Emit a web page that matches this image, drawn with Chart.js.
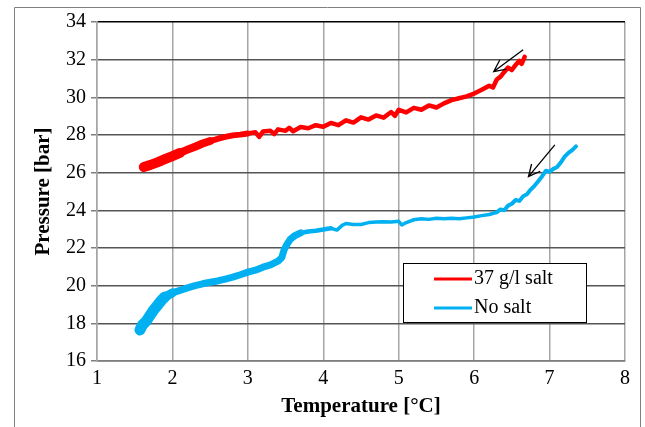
<!DOCTYPE html>
<html lang="en">
<head>
<meta charset="UTF-8">
<title>Pressure vs temperature</title>
<script src="https://cdn.jsdelivr.net/npm/chart.js"></script>
<style>
  body { margin: 0; background: #fff; }
  #wrap { width: 645px; height: 427px; }
</style>
</head>
<body>
<div id="wrap"><canvas id="myChart" width="645" height="427"></canvas></div>
<script>
  const seriesLabels = ['37 g/l salt', 'No salt'];
  const seriesColors = ['#ff0000', '#00b0f0'];

  // temperature [°C] / pressure [bar]
  const saltTemp = [1.62, 1.70, 1.80, 1.90, 2.00, 2.10, 2.20, 2.30, 2.40, 2.50, 2.60, 2.70, 2.80, 2.90, 3.00,
    3.10, 3.15, 3.20, 3.30, 3.35, 3.40, 3.50, 3.55, 3.60, 3.70, 3.80, 3.90, 4.00, 4.10, 4.20, 4.30, 4.40,
    4.50, 4.60, 4.70, 4.80, 4.90, 4.95, 5.00, 5.10, 5.20, 5.30, 5.40, 5.50, 5.60, 5.70, 5.80, 5.90, 6.00,
    6.10, 6.20, 6.25, 6.30, 6.35, 6.40, 6.45, 6.50, 6.55, 6.60, 6.63, 6.67];
  const saltPress = [26.30, 26.40, 26.55, 26.72, 26.88, 27.05, 27.22, 27.38, 27.55, 27.68, 27.80, 27.90, 27.98, 28.02, 28.08,
    28.15, 27.90, 28.18, 28.22, 28.05, 28.30, 28.22, 28.38, 28.20, 28.42, 28.36, 28.52, 28.44, 28.64, 28.52, 28.78, 28.66,
    28.94, 28.82, 29.04, 28.92, 29.22, 29.02, 29.34, 29.20, 29.44, 29.34, 29.57, 29.46, 29.68, 29.85, 29.95, 30.05, 30.20,
    30.40, 30.62, 30.52, 30.95, 31.10, 31.35, 31.58, 31.45, 31.72, 31.94, 31.78, 32.15];

  const noSaltTemp = [1.57, 1.60, 1.65, 1.70, 1.75, 1.80, 1.85, 1.90, 2.00, 2.10, 2.20, 2.30, 2.40, 2.50, 2.60,
    2.70, 2.80, 2.90, 3.00, 3.10, 3.20, 3.30, 3.40, 3.45, 3.48, 3.52, 3.56, 3.62, 3.70, 3.80, 3.90, 4.00,
    4.10, 4.18, 4.25, 4.30, 4.40, 4.50, 4.60, 4.70, 4.80, 4.90, 5.00, 5.04, 5.10, 5.20, 5.30, 5.40, 5.50,
    5.60, 5.70, 5.80, 5.90, 6.00, 6.10, 6.20, 6.30, 6.35, 6.40, 6.45, 6.50, 6.55, 6.60, 6.65, 6.70, 6.75,
    6.80, 6.85, 6.90, 6.95, 7.00, 7.05, 7.10, 7.15, 7.20, 7.25, 7.30, 7.35];
  const noSaltPress = [17.65, 17.90, 18.10, 18.40, 18.70, 18.95, 19.20, 19.40, 19.62, 19.75, 19.88, 20.00, 20.10, 20.18, 20.25,
    20.35, 20.45, 20.58, 20.72, 20.82, 20.98, 21.10, 21.30, 21.50, 21.90, 22.20, 22.45, 22.65, 22.80, 22.88, 22.92, 22.98,
    23.05, 22.95, 23.20, 23.30, 23.25, 23.25, 23.35, 23.38, 23.40, 23.38, 23.42, 23.22, 23.35, 23.50, 23.55, 23.52, 23.58,
    23.55, 23.58, 23.55, 23.60, 23.65, 23.72, 23.78, 23.90, 24.05, 24.00, 24.25, 24.35, 24.55, 24.50, 24.75, 24.85, 25.10,
    25.30, 25.55, 25.80, 26.10, 26.05, 26.20, 26.30, 26.55, 26.85, 27.05, 27.20, 27.40];

  // annotation arrows: tail -> head, in data units
  const arrowTails = [[6.65, 32.53], [7.07, 27.48]];
  const arrowHeads = [[6.26, 31.37], [6.72, 25.79]];

  const toPoints = (xs, ys) => xs.map((x, i) => ({ x, y: ys[i] }));
  const serif = "Liberation Serif, DejaVu Serif, serif";

  const decor = {
    id: 'decor',
    afterDatasetsDraw(chart) {
      const ctx = chart.ctx;
      const sx = chart.scales.x, sy = chart.scales.y;
      ctx.save();
      ctx.strokeStyle = '#000';
      ctx.lineWidth = 1.3;
      for (let i = 0; i < arrowTails.length; i++) {
        const x0 = sx.getPixelForValue(arrowTails[i][0]), y0 = sy.getPixelForValue(arrowTails[i][1]);
        const x1 = sx.getPixelForValue(arrowHeads[i][0]), y1 = sy.getPixelForValue(arrowHeads[i][1]);
        const a = Math.atan2(y1 - y0, x1 - x0);
        ctx.beginPath();
        ctx.moveTo(x0, y0);
        ctx.lineTo(x1, y1);
        ctx.moveTo(x1 - 13 * Math.cos(a - 0.45), y1 - 13 * Math.sin(a - 0.45));
        ctx.lineTo(x1, y1);
        ctx.lineTo(x1 - 13 * Math.cos(a + 0.45), y1 - 13 * Math.sin(a + 0.45));
        ctx.stroke();
      }
      ctx.restore();
    },
    afterDraw(chart) {
      const ctx = chart.ctx;
      const area = chart.chartArea;
      ctx.save();
      // outer frame
      ctx.strokeStyle = '#808080';
      ctx.lineWidth = 1;
      ctx.beginPath();
      ctx.moveTo(14.5, 430);
      ctx.lineTo(14.5, 7.5);
      ctx.lineTo(640.5, 7.5);
      ctx.lineTo(640.5, 430);
      ctx.stroke();

      // legend box
      const bx = area.left + 306, by = area.top + 241, bw = 183, bh = 59;
      ctx.fillStyle = '#fff';
      ctx.fillRect(bx, by, bw, bh);
      ctx.strokeStyle = '#000';
      ctx.lineWidth = 1;
      ctx.strokeRect(bx + 0.5, by + 0.5, bw, bh);
      ctx.font = '20px ' + serif;
      ctx.textBaseline = 'middle';
      chart.data.datasets.forEach((ds, i) => {
        const y = by + 16 + i * 29;
        ctx.strokeStyle = ds.borderColor;
        ctx.lineWidth = 3;
        ctx.beginPath();
        ctx.moveTo(bx + 31, y);
        ctx.lineTo(bx + 69, y);
        ctx.stroke();
        ctx.fillStyle = '#000';
        ctx.fillText(ds.label, bx + 71, y);
      });
      ctx.restore();
    }
  };

  const widthBy = (limits) => (c) => {
    const x = c.p0.parsed.x;
    for (const [lim, w] of limits) if (x < lim) return w;
    return 3;
  };

  new Chart(document.getElementById('myChart'), {
    type: 'scatter',
    data: {
      datasets: [
        {
          label: seriesLabels[0],
          data: toPoints(saltTemp, saltPress),
          borderColor: seriesColors[0],
          showLine: true,
          pointRadius: 0,
          borderWidth: 4,
          borderCapStyle: 'round',
          borderJoinStyle: 'round',
          segment: { borderWidth: widthBy([[2.05, 10], [2.5, 8], [3.0, 6], [7, 4.5]]) }
        },
        {
          label: seriesLabels[1],
          data: toPoints(noSaltTemp, noSaltPress),
          borderColor: seriesColors[1],
          showLine: true,
          pointRadius: 0,
          borderWidth: 3,
          borderCapStyle: 'round',
          borderJoinStyle: 'round',
          segment: { borderWidth: widthBy([[1.9, 11], [2.0, 9], [3.7, 7], [4.1, 4.5], [6.3, 3.5], [8, 4]]) }
        }
      ]
    },
    options: {
      responsive: false,
      animation: false,
      layout: { padding: { left: 0, top: 22, right: 20, bottom: 0 } },
      plugins: {
        legend: { display: false },
        tooltip: { enabled: false }
      },
      scales: {
        x: {
          min: 1, max: 8,
          ticks: { stepSize: 1, color: '#000', padding: 6, font: { family: serif, size: 20 } },
          grid: { color: '#a6a6a6', lineWidth: 1.5, drawTicks: false },
          border: { color: '#7f7f7f', width: 1.5 },
          title: { display: true, text: 'Temperature [°C]', color: '#000', padding: { bottom: 8 },
                   font: { family: serif, size: 21, weight: 'bold' } },
          afterFit: s => { s.height = 66; }
        },
        y: {
          min: 16, max: 34,
          ticks: { stepSize: 2, color: '#000', padding: 5, font: { family: serif, size: 20 } },
          grid: { color: c => c.tick.value === 34 ? '#000' : '#555', lineWidth: 1.5, tickLength: 6, tickColor: '#7f7f7f' },
          border: { color: '#a6a6a6', width: 1.5 },
          title: { display: true, text: 'Pressure [bar]', color: '#000', padding: { top: 31 },
                   font: { family: serif, size: 21, weight: 'bold' } },
          afterFit: s => { s.width = 97; }
        }
      }
    },
    plugins: [decor]
  });
</script>
</body>
</html>
